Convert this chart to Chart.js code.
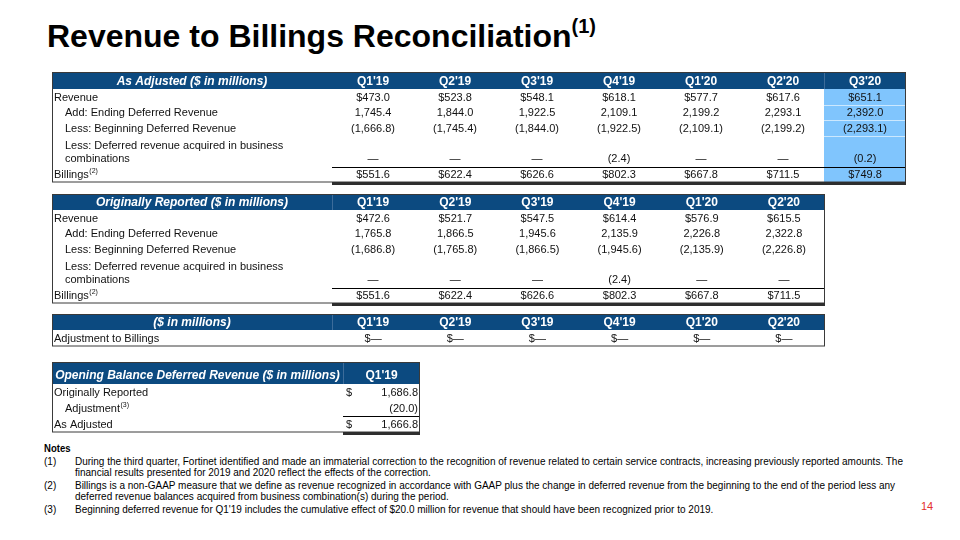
<!DOCTYPE html>
<html>
<head>
<meta charset="utf-8">
<script src="https://cdn.jsdelivr.net/npm/chart.js@4.4.0/dist/chart.umd.min.js"></script>
<style>
body { margin: 0; width: 960px; height: 540px; background: #fff; position: relative; overflow: hidden; font-family: "Liberation Sans", Arial, sans-serif; }
canvas { position: absolute; }
#title { position: absolute; left: 47px; top: 20px; font-size: 32px; line-height: 32px; font-weight: bold; color: #000; white-space: nowrap; }
#title sup { font-size: 20px; position: relative; top: -4px; vertical-align: top; line-height: 20px; }
#notes { position: absolute; left: 44px; top: 442px; font-family: "Liberation Sans", Arial, sans-serif; font-size: 11px; color: #000; transform-origin: 0 0; }
#notes .hd { font-weight: bold; font-size: 10.5px; line-height: 12px; }
#notes .item { position: relative; padding-left: 38px; line-height: 11px; margin-top: 2px; white-space: nowrap; }
#notes .item span { position: absolute; left: 0; top: 0; }
#page { position: absolute; left: 921px; top: 500px; font-size: 11px; color: #e3302b; }
</style>
</head>
<body>

<div id="title">Revenue to Billings Reconciliation<sup>(1)</sup></div>

<canvas id="adjusted" width="854" height="114" style="left:52px;top:72px"></canvas>
<canvas id="original" width="773" height="113" style="left:52px;top:194px"></canvas>
<canvas id="adjustment" width="773" height="36" style="left:52px;top:314px"></canvas>
<canvas id="opening" width="368" height="74" style="left:52px;top:362px"></canvas>

<div id="notes">
  <div class="hd">Notes</div>
  <div class="item"><span>(1)</span><b id="firstLine" style="font-weight:normal">During the third quarter, Fortinet identified and made an immaterial correction to the recognition of revenue related to certain service contracts, increasing previously reported amounts. The</b><br>financial results presented for 2019 and 2020 reflect the effects of the correction.</div>
  <div class="item"><span>(2)</span>Billings is a non-GAAP measure that we define as revenue recognized in accordance with GAAP plus the change in deferred revenue from the beginning to the end of the period less any<br>deferred revenue balances acquired from business combination(s) during the period.</div>
  <div class="item"><span>(3)</span>Beginning deferred revenue for Q1'19 includes the cumulative effect of $20.0 million for revenue that should have been recognized prior to 2019.</div>
</div>

<div id="page">14</div>

<script>
// DATA

const quarters = ["Q1'19", "Q2'19", "Q3'19", "Q4'19", "Q1'20", "Q2'20", "Q3'20"];
const origQuarters = ["Q1'19", "Q2'19", "Q3'19", "Q4'19", "Q1'20", "Q2'20"];
const rowLabels = [
    "Revenue",
    "Add: Ending Deferred Revenue",
    "Less: Beginning Deferred Revenue",
    "Less: Deferred revenue acquired in business",
    "combinations",
    "Billings"
];

const adjRevenue = [473.0, 523.8, 548.1, 618.1, 577.7, 617.6, 651.1];
const adjEnding = [1745.4, 1844.0, 1922.5, 2109.1, 2199.2, 2293.1, 2392.0];
const adjBeginning = [-1666.8, -1745.4, -1844.0, -1922.5, -2109.1, -2199.2, -2293.1];
const adjAcquired = [0, 0, 0, -2.4, 0, 0, -0.2];
const adjBillings = [551.6, 622.4, 626.6, 802.3, 667.8, 711.5, 749.8];

const origRevenue = [472.6, 521.7, 547.5, 614.4, 576.9, 615.5];
const origEnding = [1765.8, 1866.5, 1945.6, 2135.9, 2226.8, 2322.8];
const origBeginning = [-1686.8, -1765.8, -1866.5, -1945.6, -2135.9, -2226.8];
const origAcquired = [0, 0, 0, -2.4, 0, 0];
const origBillings = [551.6, 622.4, 626.6, 802.3, 667.8, 711.5];

const billingsAdjustment = [0, 0, 0, 0, 0, 0];

const openingLabels = ["Originally Reported", "Adjustment", "As Adjusted"];
const openingValues = [1686.8, -20.0, 1666.8];


// STYLE

const HEADER_BLUE = "#0c4a80";
const HIGHLIGHT = "#80c5fd";
const BODY_FONT = '11px "Liberation Sans", Arial, sans-serif';
const HEAD_FONT = 'bold 12px "Liberation Sans", Arial, sans-serif';
const HEAD_ITALIC = 'italic bold 12px "Liberation Sans", Arial, sans-serif';


// FORMAT A NUMBER LIKE THE SLIDE

function fmt(v, prefix) {
    if (v === null || v === undefined) return "";
    const p = prefix || "";
    if (v === 0) return p + "\u2014";
    const s = Math.abs(v).toLocaleString("en-US", {
        minimumFractionDigits: 1,
        maximumFractionDigits: 1
    });
    return v < 0 ? "(" + s + ")" : p + s;
}


// TABLE SETTINGS, KEYED BY CANVAS ID

const tableSpecs = {};


// TABLE DRAWING PLUGIN

const tablePlugin = {

    id: "tableCells",

    afterDraw(chart) {

        const opts = tableSpecs[chart.canvas.id];
        const ctx = chart.ctx;
        const xs = chart.scales.x;
        const ys = chart.scales.y;
        const area = chart.chartArea;
        const W = area.right;
        const colW = (area.right - area.left) / xs.getLabels().length;
        const rowH = (area.bottom - area.top) / ys.getLabels().length;

        ctx.save();

        // highlighted column
        if (opts.highlight !== undefined) {
            const cx = xs.getPixelForValue(opts.highlight);
            ctx.fillStyle = HIGHLIGHT;
            ctx.fillRect(cx - colW / 2, area.top, colW, area.bottom - area.top);
            ctx.strokeStyle = "rgba(255,255,255,0.6)";
            ctx.lineWidth = 1;
            (opts.highlightLines || []).forEach((r) => {
                const yy = Math.round(ys.getPixelForValue(r) - rowH / 2) + 0.5;
                ctx.beginPath();
                ctx.moveTo(cx - colW / 2, yy);
                ctx.lineTo(cx + colW / 2, yy);
                ctx.stroke();
            });
        }

        // header band
        ctx.fillStyle = HEADER_BLUE;
        ctx.fillRect(0, 0, W, area.top);

        ctx.strokeStyle = "#3d6c9a";
        ctx.lineWidth = 1;
        (opts.headerDividers || []).forEach((i) => {
            const xx = Math.round(xs.getPixelForValue(i) - colW / 2) + 0.5;
            ctx.beginPath();
            ctx.moveTo(xx, 1);
            ctx.lineTo(xx, area.top);
            ctx.stroke();
        });

        const headMid = area.top / 2 + (opts.headerShift || 0);
        ctx.fillStyle = "#fff";
        ctx.textBaseline = "middle";
        ctx.textAlign = "center";
        ctx.font = HEAD_ITALIC;
        ctx.fillText(opts.title, area.left / 2, headMid + 1);
        ctx.font = HEAD_FONT;
        xs.getLabels().forEach((q, i) => {
            ctx.fillText(q, xs.getPixelForValue(i), headMid + 1);
        });

        // rows
        ys.getLabels().forEach((label, r) => {
            const row = opts.rows[r];
            const cy = ys.getPixelForValue(r) + 1 + (row.shift || 0);

            ctx.fillStyle = "#111";
            ctx.font = BODY_FONT;
            ctx.textAlign = "left";
            const lx = 2 + (row.indent ? 11 : 0);
            ctx.fillText(label, lx, cy);

            if (row.sup) {
                const w = ctx.measureText(label).width;
                ctx.font = '7px "Liberation Sans", Arial, sans-serif';
                ctx.fillText(row.sup, lx + w + 0.5, cy - 4);
                ctx.font = BODY_FONT;
            }

            if (!row.values) return;

            row.values.forEach((v, i) => {
                const cx = xs.getPixelForValue(i);
                const txt = fmt(v, row.prefix);
                if (opts.rightAlign) {
                    ctx.textAlign = "right";
                    ctx.fillText(txt, cx + colW / 2 - 2, cy);
                    if (row.dollar) {
                        ctx.textAlign = "left";
                        ctx.fillText("$", cx - colW / 2 + 3, cy);
                    }
                } else {
                    ctx.textAlign = "center";
                    ctx.fillText(txt, cx, cy);
                }
            });
        });

        // line above total row
        if (opts.totalRow !== undefined) {
            const yy = Math.round(ys.getPixelForValue(opts.totalRow) - rowH / 2) + 0.5;
            ctx.strokeStyle = "#000";
            ctx.lineWidth = 1;
            ctx.beginPath();
            ctx.moveTo(area.left, yy);
            ctx.lineTo(W, yy);
            ctx.stroke();
        }

        // outer border
        ctx.strokeStyle = "#3a3a3a";
        ctx.lineWidth = 1;
        ctx.strokeRect(0.5, 0.5, W - 1, Math.round(area.bottom) - 0.5);

        // heavy bottom rule under the number columns
        if (opts.thickBottom) {
            ctx.fillStyle = "#2e2e2e";
            ctx.fillRect(area.left, Math.round(area.bottom), W - area.left, 3);
        }

        ctx.restore();
    }
};


// BUILD ONE TABLE CHART

function makeTable(id, cols, labels, labelWidth, headerHeight, bottomPad, spec) {

    tableSpecs[id] = spec;

    const ctx = document.getElementById(id);

    return new Chart(ctx, {

        type: "bar",

        data: {
            labels: cols,
            datasets: []
        },

        options: {
            responsive: false,
            animation: false,
            events: [],
            layout: {
                padding: { left: labelWidth, top: headerHeight, right: 0, bottom: bottomPad }
            },
            scales: {
                x: { type: "category", labels: cols, offset: true, display: false },
                y: { type: "category", labels: labels, offset: true, display: false }
            },
            plugins: {
                legend: { display: false },
                tooltip: { enabled: false }
            }
        },

        plugins: [tablePlugin]
    });
}


// AS ADJUSTED

makeTable("adjusted", quarters, rowLabels, 280, 17, 4, {
    title: "As Adjusted ($ in millions)",
    highlight: 6,
    highlightLines: [1, 2, 3],
    headerDividers: [6],
    totalRow: 5,
    thickBottom: true,
    rows: [
        { values: adjRevenue, prefix: "$" },
        { values: adjEnding, indent: true },
        { values: adjBeginning, indent: true },
        { indent: true, shift: 2 },
        { values: adjAcquired, indent: true, shift: -1 },
        { values: adjBillings, prefix: "$", sup: "(2)" }
    ]
});


// ORIGINALLY REPORTED

makeTable("original", origQuarters, rowLabels, 280, 16, 4, {
    title: "Originally Reported ($ in millions)",
    headerDividers: [0],
    totalRow: 5,
    thickBottom: true,
    rows: [
        { values: origRevenue, prefix: "$" },
        { values: origEnding, indent: true },
        { values: origBeginning, indent: true },
        { indent: true, shift: 2 },
        { values: origAcquired, indent: true, shift: -1 },
        { values: origBillings, prefix: "$", sup: "(2)" }
    ]
});


// ADJUSTMENT TO BILLINGS

makeTable("adjustment", origQuarters, ["Adjustment to Billings"], 280, 16, 4, {
    title: "($ in millions)",
    headerDividers: [0],
    rows: [
        { values: billingsAdjustment, prefix: "$" }
    ]
});


// OPENING BALANCE DEFERRED REVENUE

makeTable("opening", ["Q1'19"], openingLabels, 291, 22, 4, {
    title: "Opening Balance Deferred Revenue ($ in millions)",
    headerDividers: [0],
    headerShift: 2,
    rightAlign: true,
    totalRow: 2,
    thickBottom: true,
    rows: [
        { values: [openingValues[0]], dollar: true },
        { values: [openingValues[1]], indent: true, sup: "(3)" },
        { values: [openingValues[2]], dollar: true }
    ]
});


// SQUEEZE THE NOTES TO THE NARROW WIDTH OF THE SLIDE

const notes = document.getElementById("notes");
const lineW = document.getElementById("firstLine").getBoundingClientRect().width;
const squeeze = 828 / lineW;
notes.style.transform = "scaleX(" + squeeze + ")";
// keep the note text starting at x = 75 after the squeeze
document.querySelectorAll("#notes .item").forEach((el) => {
    el.style.paddingLeft = (31 / squeeze) + "px";
});
</script>
</body>
</html>
